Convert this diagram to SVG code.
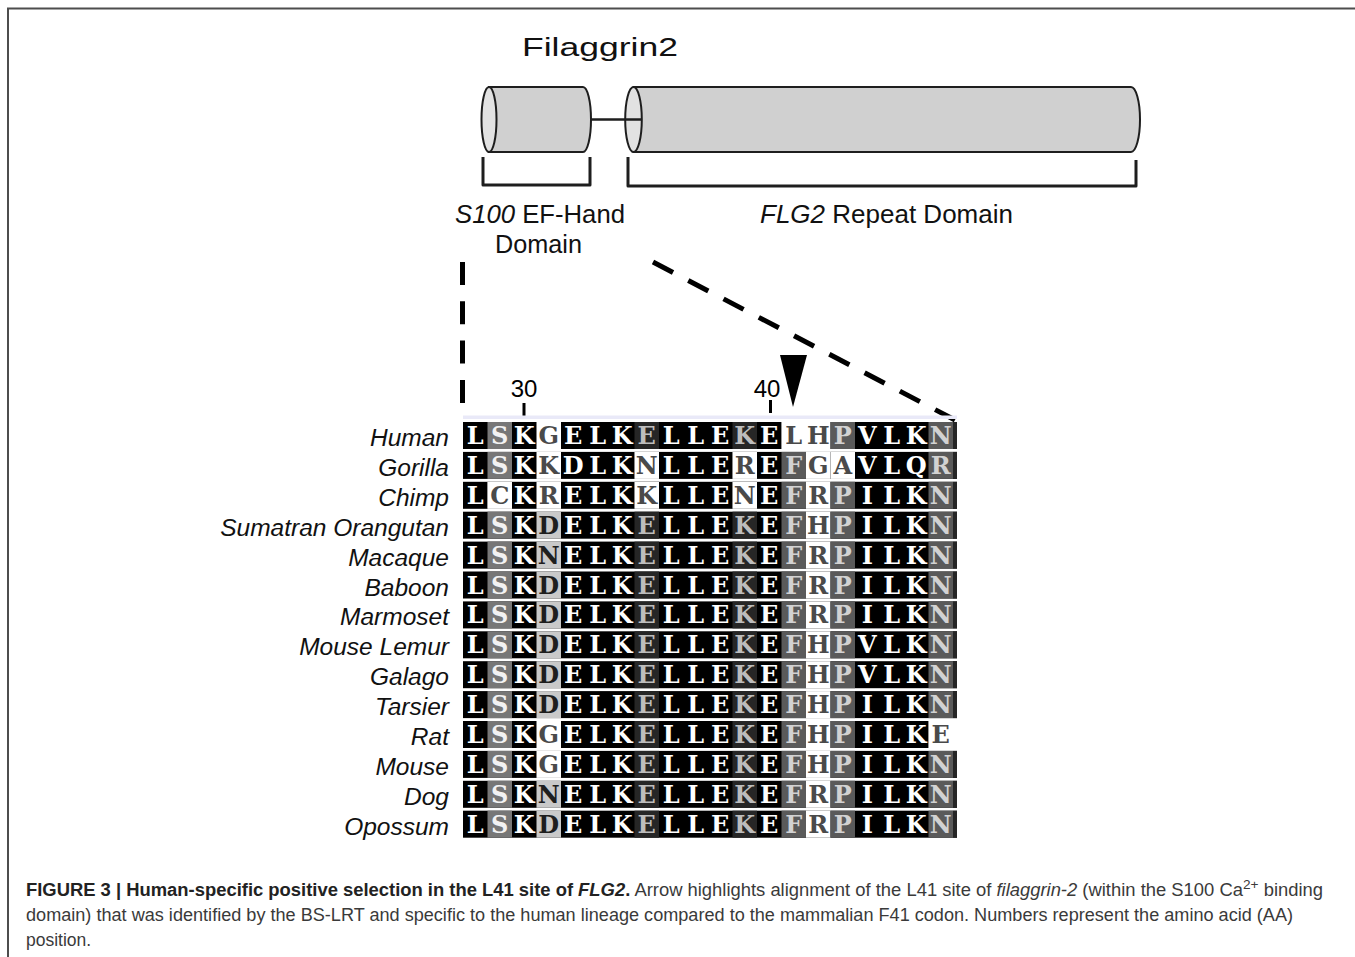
<svg xmlns="http://www.w3.org/2000/svg" xmlns:xlink="http://www.w3.org/1999/xlink" width="1355" height="957" viewBox="0 0 1355 957">
<style>
.frame{stroke:#4d4d4d;stroke-width:2;fill:none}
.cyl{fill:#d0d0d0;stroke:#1e1e1e;stroke-width:2}
.face{fill:#e2e2e2;stroke:#1e1e1e;stroke-width:2}
.brk{fill:none;stroke:#1e1e1e;stroke-width:3;stroke-linejoin:round}
.lbl{font-family:"Liberation Sans",Arial,sans-serif;font-size:25px;fill:#111}
.it{font-style:italic}
.dash{stroke:#000;stroke-width:5;fill:none}
.tick{stroke:#000;stroke-width:3}
.num{font-family:"Liberation Sans",Arial,sans-serif;font-size:24px;fill:#000;text-anchor:middle}
.sp{font-family:"Liberation Sans",Arial,sans-serif;font-size:24.5px;font-style:italic;fill:#111;text-anchor:end}
.b{fill:#000}.s{fill:#777}.d{fill:#262626}.m{fill:#5a5a5a}.l{fill:#c9c9c9}.w{fill:#fff}
.aa{font-family:"DejaVu Serif",serif;font-weight:bold;font-size:24px;text-anchor:middle;fill:#fff}
.ts{fill:#f2f2f2}.td{fill:#bdbdbd}.tm{fill:#d2d2d2}.tl{fill:#1e1e1e}.tw{fill:#4a4a4a}
.cap{font-family:"Liberation Sans",Arial,sans-serif;font-size:17.5px;fill:#3a3a3a}
.capb{font-weight:bold;fill:#222}
</style>
<defs>
<g id="base">
<rect class="b" x="463" y="0" width="494" height="27"/>
<rect class="s" x="487.5" y="0" width="24.5" height="27"/>
<rect class="d" x="634.5" y="0" width="24.5" height="27"/>
<rect class="d" x="732.5" y="0" width="24.5" height="27"/>
<rect class="m" x="781.5" y="0" width="24.5" height="27"/>
<rect class="w" x="806" y="0" width="24.5" height="27"/>
<rect class="m" x="830.5" y="0" width="24.5" height="27"/>
<rect class="m" x="928.5" y="0" width="24.5" height="27"/>
<rect class="d" x="953" y="0" width="4" height="27"/>
</g>
</defs>
<rect width="1355" height="957" fill="#fff"/>
<path class="frame" d="M8,957 L8,8.5 L1355,8.5"/>

<g id="title"><text class="lbl" x="522" y="56" font-size="36" textLength="156" lengthAdjust="spacingAndGlyphs">Filaggrin2</text></g>

<g id="s100-cylinder">
<path class="cyl" d="M489,87 L583,87 A8,32.5 0 0 1 583,152 L489,152 Z"/>
<ellipse class="face" cx="489" cy="119.5" rx="7.5" ry="32.5"/>
</g>
<g id="flg2-cylinder">
<path class="cyl" d="M633.5,87 L1131,87 A9,32.5 0 0 1 1131,152 L633.5,152 Z"/>
<ellipse class="face" cx="633.5" cy="119.5" rx="8.3" ry="32.5"/>
</g>

<g id="s100-bracket">
<path class="brk" d="M483,157 L483,185 L590,185 L590,157"/>
<text class="lbl" x="455" y="223" textLength="170" lengthAdjust="spacingAndGlyphs"><tspan class="it">S100</tspan> EF-Hand</text>
<text class="lbl" x="495" y="253" textLength="87" lengthAdjust="spacingAndGlyphs">Domain</text>
</g>
<g id="flg2-bracket">
<path class="brk" d="M628,157 L628,186 L1136,186 L1136,160"/>
<text class="lbl" x="760" y="223" textLength="253" lengthAdjust="spacingAndGlyphs"><tspan class="it">FLG2</tspan> Repeat Domain</text>
</g>

<g id="connectors">
<line x1="590" y1="119.5" x2="642" y2="119.5" stroke="#1e1e1e" stroke-width="2.5"/>
<line class="dash" x1="462.5" y1="262" x2="462.5" y2="403" stroke-dasharray="23 16.3"/>
<line class="dash" x1="653" y1="262" x2="955" y2="420" stroke-dasharray="22.6 17.2"/>
</g>

<g id="scale">
<text class="num" x="524" y="397">30</text>
<line class="tick" x1="524" y1="403" x2="524" y2="418"/>
<text class="num" x="767" y="397">40</text>
<line class="tick" x1="770.5" y1="400" x2="770.5" y2="413"/>
<polygon id="arrow" points="780,355 807,355 793,407" fill="#000"/>
<rect x="463" y="415.5" width="494" height="3.5" fill="#e9e9f8"/>
</g>

<g id="alignment">
<g id="row-human" transform="translate(0,422)">
<text class="sp" x="449" y="24">Human</text>
<use xlink:href="#base" href="#base"/>
<rect class="w" x="536.5" width="24.5" height="27"/>
<rect class="w" x="781.5" width="24.5" height="27"/>
<text class="aa" y="22"><tspan x="475.25">L</tspan><tspan class="ts" x="499.75">S</tspan><tspan x="524.25">K</tspan><tspan class="tw" x="548.75">G</tspan><tspan x="573.25">E</tspan><tspan x="597.75">L</tspan><tspan x="622.25">K</tspan><tspan class="td" x="646.75">E</tspan><tspan x="671.25">L</tspan><tspan x="695.75">L</tspan><tspan x="720.25">E</tspan><tspan class="td" x="744.75">K</tspan><tspan x="769.25">E</tspan><tspan class="tw" x="793.75">L</tspan><tspan class="tw" x="818.25">H</tspan><tspan class="tm" x="842.75">P</tspan><tspan x="867.25">V</tspan><tspan x="891.75">L</tspan><tspan x="916.25">K</tspan><tspan class="tm" x="940.75">N</tspan></text>
</g>
<g id="row-gorilla" transform="translate(0,451.9)">
<text class="sp" x="449" y="24">Gorilla</text>
<use xlink:href="#base" href="#base"/>
<rect class="w" x="536.5" width="24.5" height="27"/>
<rect class="w" x="634.5" width="24.5" height="27"/>
<rect class="w" x="732.5" width="24.5" height="27"/>
<rect class="w" x="830.5" width="24.5" height="27"/>
<text class="aa" y="22"><tspan x="475.25">L</tspan><tspan class="ts" x="499.75">S</tspan><tspan x="524.25">K</tspan><tspan class="tw" x="548.75">K</tspan><tspan x="573.25">D</tspan><tspan x="597.75">L</tspan><tspan x="622.25">K</tspan><tspan class="tw" x="646.75">N</tspan><tspan x="671.25">L</tspan><tspan x="695.75">L</tspan><tspan x="720.25">E</tspan><tspan class="tw" x="744.75">R</tspan><tspan x="769.25">E</tspan><tspan class="tm" x="793.75">F</tspan><tspan class="tw" x="818.25">G</tspan><tspan class="tw" x="842.75">A</tspan><tspan x="867.25">V</tspan><tspan x="891.75">L</tspan><tspan x="916.25">Q</tspan><tspan class="tm" x="940.75">R</tspan></text>
</g>
<g id="row-chimp" transform="translate(0,481.8)">
<text class="sp" x="449" y="24">Chimp</text>
<use xlink:href="#base" href="#base"/>
<rect class="w" x="487.5" width="24.5" height="27"/>
<rect class="w" x="536.5" width="24.5" height="27"/>
<rect class="w" x="634.5" width="24.5" height="27"/>
<rect class="w" x="732.5" width="24.5" height="27"/>
<text class="aa" y="22"><tspan x="475.25">L</tspan><tspan class="tw" x="499.75">C</tspan><tspan x="524.25">K</tspan><tspan class="tw" x="548.75">R</tspan><tspan x="573.25">E</tspan><tspan x="597.75">L</tspan><tspan x="622.25">K</tspan><tspan class="tw" x="646.75">K</tspan><tspan x="671.25">L</tspan><tspan x="695.75">L</tspan><tspan x="720.25">E</tspan><tspan class="tw" x="744.75">N</tspan><tspan x="769.25">E</tspan><tspan class="tm" x="793.75">F</tspan><tspan class="tw" x="818.25">R</tspan><tspan class="tm" x="842.75">P</tspan><tspan x="867.25">I</tspan><tspan x="891.75">L</tspan><tspan x="916.25">K</tspan><tspan class="tm" x="940.75">N</tspan></text>
</g>
<g id="row-sumatran-orangutan" transform="translate(0,511.7)">
<text class="sp" x="449" y="24">Sumatran Orangutan</text>
<use xlink:href="#base" href="#base"/>
<rect class="l" x="536.5" width="24.5" height="27"/>
<text class="aa" y="22"><tspan x="475.25">L</tspan><tspan class="ts" x="499.75">S</tspan><tspan x="524.25">K</tspan><tspan class="tl" x="548.75">D</tspan><tspan x="573.25">E</tspan><tspan x="597.75">L</tspan><tspan x="622.25">K</tspan><tspan class="td" x="646.75">E</tspan><tspan x="671.25">L</tspan><tspan x="695.75">L</tspan><tspan x="720.25">E</tspan><tspan class="td" x="744.75">K</tspan><tspan x="769.25">E</tspan><tspan class="tm" x="793.75">F</tspan><tspan class="tw" x="818.25">H</tspan><tspan class="tm" x="842.75">P</tspan><tspan x="867.25">I</tspan><tspan x="891.75">L</tspan><tspan x="916.25">K</tspan><tspan class="tm" x="940.75">N</tspan></text>
</g>
<g id="row-macaque" transform="translate(0,541.6)">
<text class="sp" x="449" y="24">Macaque</text>
<use xlink:href="#base" href="#base"/>
<rect class="l" x="536.5" width="24.5" height="27"/>
<text class="aa" y="22"><tspan x="475.25">L</tspan><tspan class="ts" x="499.75">S</tspan><tspan x="524.25">K</tspan><tspan class="tl" x="548.75">N</tspan><tspan x="573.25">E</tspan><tspan x="597.75">L</tspan><tspan x="622.25">K</tspan><tspan class="td" x="646.75">E</tspan><tspan x="671.25">L</tspan><tspan x="695.75">L</tspan><tspan x="720.25">E</tspan><tspan class="td" x="744.75">K</tspan><tspan x="769.25">E</tspan><tspan class="tm" x="793.75">F</tspan><tspan class="tw" x="818.25">R</tspan><tspan class="tm" x="842.75">P</tspan><tspan x="867.25">I</tspan><tspan x="891.75">L</tspan><tspan x="916.25">K</tspan><tspan class="tm" x="940.75">N</tspan></text>
</g>
<g id="row-baboon" transform="translate(0,571.5)">
<text class="sp" x="449" y="24">Baboon</text>
<use xlink:href="#base" href="#base"/>
<rect class="l" x="536.5" width="24.5" height="27"/>
<text class="aa" y="22"><tspan x="475.25">L</tspan><tspan class="ts" x="499.75">S</tspan><tspan x="524.25">K</tspan><tspan class="tl" x="548.75">D</tspan><tspan x="573.25">E</tspan><tspan x="597.75">L</tspan><tspan x="622.25">K</tspan><tspan class="td" x="646.75">E</tspan><tspan x="671.25">L</tspan><tspan x="695.75">L</tspan><tspan x="720.25">E</tspan><tspan class="td" x="744.75">K</tspan><tspan x="769.25">E</tspan><tspan class="tm" x="793.75">F</tspan><tspan class="tw" x="818.25">R</tspan><tspan class="tm" x="842.75">P</tspan><tspan x="867.25">I</tspan><tspan x="891.75">L</tspan><tspan x="916.25">K</tspan><tspan class="tm" x="940.75">N</tspan></text>
</g>
<g id="row-marmoset" transform="translate(0,601.4)">
<text class="sp" x="449" y="24">Marmoset</text>
<use xlink:href="#base" href="#base"/>
<rect class="l" x="536.5" width="24.5" height="27"/>
<text class="aa" y="22"><tspan x="475.25">L</tspan><tspan class="ts" x="499.75">S</tspan><tspan x="524.25">K</tspan><tspan class="tl" x="548.75">D</tspan><tspan x="573.25">E</tspan><tspan x="597.75">L</tspan><tspan x="622.25">K</tspan><tspan class="td" x="646.75">E</tspan><tspan x="671.25">L</tspan><tspan x="695.75">L</tspan><tspan x="720.25">E</tspan><tspan class="td" x="744.75">K</tspan><tspan x="769.25">E</tspan><tspan class="tm" x="793.75">F</tspan><tspan class="tw" x="818.25">R</tspan><tspan class="tm" x="842.75">P</tspan><tspan x="867.25">I</tspan><tspan x="891.75">L</tspan><tspan x="916.25">K</tspan><tspan class="tm" x="940.75">N</tspan></text>
</g>
<g id="row-mouse-lemur" transform="translate(0,631.3)">
<text class="sp" x="449" y="24">Mouse Lemur</text>
<use xlink:href="#base" href="#base"/>
<rect class="l" x="536.5" width="24.5" height="27"/>
<text class="aa" y="22"><tspan x="475.25">L</tspan><tspan class="ts" x="499.75">S</tspan><tspan x="524.25">K</tspan><tspan class="tl" x="548.75">D</tspan><tspan x="573.25">E</tspan><tspan x="597.75">L</tspan><tspan x="622.25">K</tspan><tspan class="td" x="646.75">E</tspan><tspan x="671.25">L</tspan><tspan x="695.75">L</tspan><tspan x="720.25">E</tspan><tspan class="td" x="744.75">K</tspan><tspan x="769.25">E</tspan><tspan class="tm" x="793.75">F</tspan><tspan class="tw" x="818.25">H</tspan><tspan class="tm" x="842.75">P</tspan><tspan x="867.25">V</tspan><tspan x="891.75">L</tspan><tspan x="916.25">K</tspan><tspan class="tm" x="940.75">N</tspan></text>
</g>
<g id="row-galago" transform="translate(0,661.2)">
<text class="sp" x="449" y="24">Galago</text>
<use xlink:href="#base" href="#base"/>
<rect class="l" x="536.5" width="24.5" height="27"/>
<text class="aa" y="22"><tspan x="475.25">L</tspan><tspan class="ts" x="499.75">S</tspan><tspan x="524.25">K</tspan><tspan class="tl" x="548.75">D</tspan><tspan x="573.25">E</tspan><tspan x="597.75">L</tspan><tspan x="622.25">K</tspan><tspan class="td" x="646.75">E</tspan><tspan x="671.25">L</tspan><tspan x="695.75">L</tspan><tspan x="720.25">E</tspan><tspan class="td" x="744.75">K</tspan><tspan x="769.25">E</tspan><tspan class="tm" x="793.75">F</tspan><tspan class="tw" x="818.25">H</tspan><tspan class="tm" x="842.75">P</tspan><tspan x="867.25">V</tspan><tspan x="891.75">L</tspan><tspan x="916.25">K</tspan><tspan class="tm" x="940.75">N</tspan></text>
</g>
<g id="row-tarsier" transform="translate(0,691.1)">
<text class="sp" x="449" y="24">Tarsier</text>
<use xlink:href="#base" href="#base"/>
<rect class="l" x="536.5" width="24.5" height="27"/>
<text class="aa" y="22"><tspan x="475.25">L</tspan><tspan class="ts" x="499.75">S</tspan><tspan x="524.25">K</tspan><tspan class="tl" x="548.75">D</tspan><tspan x="573.25">E</tspan><tspan x="597.75">L</tspan><tspan x="622.25">K</tspan><tspan class="td" x="646.75">E</tspan><tspan x="671.25">L</tspan><tspan x="695.75">L</tspan><tspan x="720.25">E</tspan><tspan class="td" x="744.75">K</tspan><tspan x="769.25">E</tspan><tspan class="tm" x="793.75">F</tspan><tspan class="tw" x="818.25">H</tspan><tspan class="tm" x="842.75">P</tspan><tspan x="867.25">I</tspan><tspan x="891.75">L</tspan><tspan x="916.25">K</tspan><tspan class="tm" x="940.75">N</tspan></text>
</g>
<g id="row-rat" transform="translate(0,721)">
<text class="sp" x="449" y="24">Rat</text>
<use xlink:href="#base" href="#base"/>
<rect class="w" x="536.5" width="24.5" height="27"/>
<rect class="w" x="928.5" width="28.5" height="27"/>
<text class="aa" y="22"><tspan x="475.25">L</tspan><tspan class="ts" x="499.75">S</tspan><tspan x="524.25">K</tspan><tspan class="tw" x="548.75">G</tspan><tspan x="573.25">E</tspan><tspan x="597.75">L</tspan><tspan x="622.25">K</tspan><tspan class="td" x="646.75">E</tspan><tspan x="671.25">L</tspan><tspan x="695.75">L</tspan><tspan x="720.25">E</tspan><tspan class="td" x="744.75">K</tspan><tspan x="769.25">E</tspan><tspan class="tm" x="793.75">F</tspan><tspan class="tw" x="818.25">H</tspan><tspan class="tm" x="842.75">P</tspan><tspan x="867.25">I</tspan><tspan x="891.75">L</tspan><tspan x="916.25">K</tspan><tspan class="tw" x="940.75">E</tspan></text>
</g>
<g id="row-mouse" transform="translate(0,750.9)">
<text class="sp" x="449" y="24">Mouse</text>
<use xlink:href="#base" href="#base"/>
<rect class="w" x="536.5" width="24.5" height="27"/>
<text class="aa" y="22"><tspan x="475.25">L</tspan><tspan class="ts" x="499.75">S</tspan><tspan x="524.25">K</tspan><tspan class="tw" x="548.75">G</tspan><tspan x="573.25">E</tspan><tspan x="597.75">L</tspan><tspan x="622.25">K</tspan><tspan class="td" x="646.75">E</tspan><tspan x="671.25">L</tspan><tspan x="695.75">L</tspan><tspan x="720.25">E</tspan><tspan class="td" x="744.75">K</tspan><tspan x="769.25">E</tspan><tspan class="tm" x="793.75">F</tspan><tspan class="tw" x="818.25">H</tspan><tspan class="tm" x="842.75">P</tspan><tspan x="867.25">I</tspan><tspan x="891.75">L</tspan><tspan x="916.25">K</tspan><tspan class="tm" x="940.75">N</tspan></text>
</g>
<g id="row-dog" transform="translate(0,780.8)">
<text class="sp" x="449" y="24">Dog</text>
<use xlink:href="#base" href="#base"/>
<rect class="l" x="536.5" width="24.5" height="27"/>
<text class="aa" y="22"><tspan x="475.25">L</tspan><tspan class="ts" x="499.75">S</tspan><tspan x="524.25">K</tspan><tspan class="tl" x="548.75">N</tspan><tspan x="573.25">E</tspan><tspan x="597.75">L</tspan><tspan x="622.25">K</tspan><tspan class="td" x="646.75">E</tspan><tspan x="671.25">L</tspan><tspan x="695.75">L</tspan><tspan x="720.25">E</tspan><tspan class="td" x="744.75">K</tspan><tspan x="769.25">E</tspan><tspan class="tm" x="793.75">F</tspan><tspan class="tw" x="818.25">R</tspan><tspan class="tm" x="842.75">P</tspan><tspan x="867.25">I</tspan><tspan x="891.75">L</tspan><tspan x="916.25">K</tspan><tspan class="tm" x="940.75">N</tspan></text>
</g>
<g id="row-opossum" transform="translate(0,810.7)">
<text class="sp" x="449" y="24">Opossum</text>
<use xlink:href="#base" href="#base"/>
<rect class="l" x="536.5" width="24.5" height="27"/>
<text class="aa" y="22"><tspan x="475.25">L</tspan><tspan class="ts" x="499.75">S</tspan><tspan x="524.25">K</tspan><tspan class="tl" x="548.75">D</tspan><tspan x="573.25">E</tspan><tspan x="597.75">L</tspan><tspan x="622.25">K</tspan><tspan class="td" x="646.75">E</tspan><tspan x="671.25">L</tspan><tspan x="695.75">L</tspan><tspan x="720.25">E</tspan><tspan class="td" x="744.75">K</tspan><tspan x="769.25">E</tspan><tspan class="tm" x="793.75">F</tspan><tspan class="tw" x="818.25">R</tspan><tspan class="tm" x="842.75">P</tspan><tspan x="867.25">I</tspan><tspan x="891.75">L</tspan><tspan x="916.25">K</tspan><tspan class="tm" x="940.75">N</tspan></text>
</g>
</g>

<g id="caption">
<text class="cap" x="26" y="896" textLength="1297" lengthAdjust="spacingAndGlyphs"><tspan class="capb">FIGURE 3 | Human-specific positive selection in the L41 site of <tspan class="it">FLG2</tspan>.</tspan> Arrow highlights alignment of the L41 site of <tspan class="it">filaggrin-2</tspan> (within the S100 Ca<tspan baseline-shift="super" font-size="13">2+</tspan> binding</text>
<text class="cap" x="26" y="921" textLength="1267" lengthAdjust="spacingAndGlyphs">domain) that was identified by the BS-LRT and specific to the human lineage compared to the mammalian F41 codon. Numbers represent the amino acid (AA)</text>
<text class="cap" x="26" y="946">position.</text>
</g>
</svg>
